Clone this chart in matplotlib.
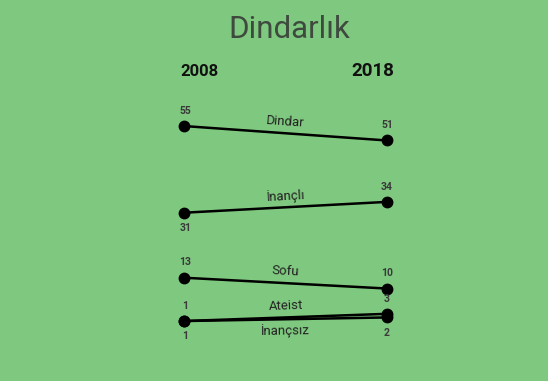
import numpy as np
import matplotlib
matplotlib.use("Agg")
import matplotlib.pyplot as plt

categories = ["Dindar", "İnançlı", "Sofu", "Ateist", "İnançsız"]
years = ["2008", "2018"]
v2008 = [55, 31, 13, 1, 1]
v2018 = [51, 34, 10, 3, 2]
# label placement: +1 above line, -1 below line
name_side = [1, 1, 1, 1, -1]
left_side = [1, -1, 1, 1, -1]
right_side = [1, 1, 1, 1, -1]

bg = "#7fc87f"
plt.rcParams['font.family'] = ['Roboto', 'DejaVu Sans']

fig = plt.figure(figsize=(5.48, 3.81), dpi=100, facecolor=bg)
ax = fig.add_axes([0, 0, 1, 1])
ax.set_facecolor(bg)
ax.set_xlim(-0.906, 1.793)
ax.set_ylim(-15.6, 89.9)
ax.axis("off")

fig.text(289/548, 1 - 30/381, "Dindarlık", ha="center", va="center", fontsize=22.5, color="#3f4a3f")
fig.text(180/548, 1 - 72/381, years[0], ha="left", va="center", fontsize=12, fontweight="bold", color="#111111")
fig.text(394/548, 1 - 71/381, years[1], ha="right", va="center", fontsize=13.5, fontweight="bold", color="#111111")

fig.canvas.draw()
for i, cat in enumerate(categories):
    a, b = v2008[i], v2018[i]
    ax.plot([0, 1], [a, b], color="black", lw=1.8, marker="o", ms=7.5, zorder=3)
    p0 = ax.transData.transform((0, a))
    p1 = ax.transData.transform((1, b))
    ang = np.degrees(np.arctan2(p1[1] - p0[1], p1[0] - p0[0]))
    s = name_side[i]
    ax.annotate(cat, xy=(0.5, (a + b) / 2), xytext=(0, 8.5 * s), textcoords="offset points",
                ha="center", va="center", rotation=ang, rotation_mode="anchor",
                fontsize=9.5, color="#222222")
    ls = left_side[i]
    ax.annotate(str(a), xy=(0, a), xytext=(1, 11 * ls), textcoords="offset points",
                ha="center", va="center", fontsize=7.5, fontweight="bold", color="#3a3a3a")
    rs = right_side[i]
    ax.annotate(str(b), xy=(1, b), xytext=(0, 11 * rs), textcoords="offset points",
                ha="center", va="center", fontsize=7.5, fontweight="bold", color="#3a3a3a")

fig.savefig("out.png", dpi=100, facecolor=bg)
